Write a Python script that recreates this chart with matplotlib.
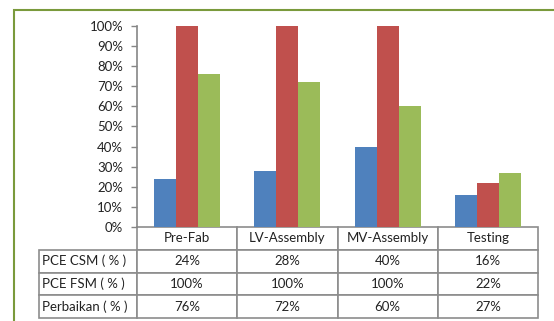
import matplotlib.pyplot as plt
import matplotlib.patches as patches
import matplotlib.ticker as ticker
import numpy as np

categories = ['Pre-Fab', 'LV-Assembly', 'MV-Assembly', 'Testing']
series_names = ['PCE CSM ( % )', 'PCE FSM ( % )', 'Perbaikan ( % )']
pce_csm = [24, 28, 40, 16]
pce_fsm = [100, 100, 100, 22]
perbaikan = [76, 72, 60, 27]
colors = ['#4F81BD', '#C0504D', '#9BBB59']

plt.rcParams['font.family'] = ['Lato', 'DejaVu Sans']

fig = plt.figure(figsize=(5.54, 3.21), dpi=100)
ax = fig.add_axes([137/554, 1 - 227/321, 401/554, 201/321])

# green frame around the whole chart
fig.patches.append(patches.Rectangle((14/554, -0.1), 1.2, (311/321) + 0.1,
                                     transform=fig.transFigure, fill=False,
                                     edgecolor='#7A9A3C', linewidth=1.5))

x = np.arange(len(categories))
w = 0.22
for i, vals in enumerate([pce_csm, pce_fsm, perbaikan]):
    ax.bar(x + (i - 1) * w, vals, w, color=colors[i], zorder=2)

ax.set_xlim(-0.5, 3.5)
ax.set_ylim(0, 100)
ax.yaxis.set_major_locator(ticker.MultipleLocator(10))
ax.yaxis.set_major_formatter(ticker.FuncFormatter(lambda v, p: f'{v:.0f}%'))
ax.tick_params(axis='y', length=4, width=1, color='#868686', labelsize=9.5,
               labelcolor='#222222', pad=6)
ax.set_xticks([])
for s in ['top', 'right', 'bottom']:
    ax.spines[s].set_visible(False)
ax.spines['left'].set_color('#868686')
ax.spines['left'].set_linewidth(1.2)

# data table under the axis
rows = [[''] + categories]
for name, vals in zip(series_names, [pce_csm, pce_fsm, perbaikan]):
    rows.append([name] + [f'{v}%' for v in vals])

left = (39 - 137) / 401
tbl = ax.table(cellText=rows, cellLoc='center',
               colWidths=[98] + [100.25] * 4,
               bbox=[left, (227 - 318) / 201, 1 - left, 91 / 201])
tbl.auto_set_font_size(False)
tbl.set_fontsize(9.5)
for (r, c), cell in tbl.get_celld().items():
    cell.set_edgecolor('#8C8C8C')
    cell.set_linewidth(1.2)
    cell.get_text().set_color('#222222')
    if c == 0:
        cell.PAD = 0.03
        cell.get_text().set_ha('left')
    if r == 0 and c == 0:
        cell.visible_edges = ''

fig.savefig('out.png', dpi=100)
